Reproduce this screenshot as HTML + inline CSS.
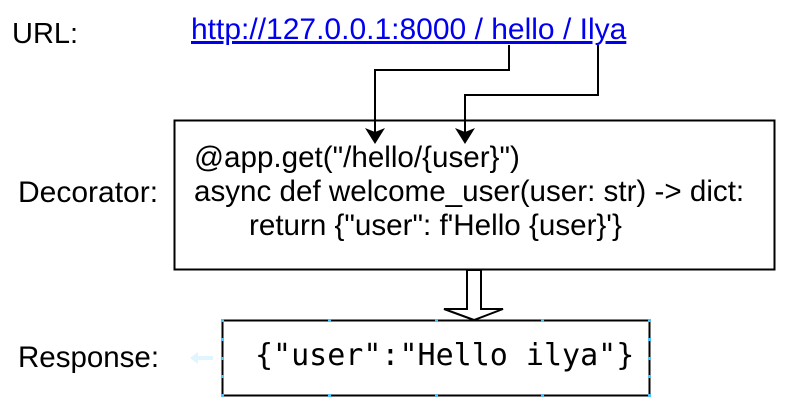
<!DOCTYPE html>
<html><head><style>
body{margin:0;width:787px;height:414px;background:#fff;overflow:hidden;position:relative;font-family:"Liberation Sans",sans-serif;}
.t{position:absolute;white-space:nowrap;color:#000;font-size:30px;line-height:34px;}
</style></head><body>
<div class="t" style="left:12px;top:17px;font-size:29px;">URL:</div>
<div class="t" style="left:18px;top:176px;font-size:30px;">Decorator:</div>
<div class="t" style="left:18px;top:341px;font-size:29.5px;">Response:</div>
<div class="t" style="left:191px;top:13px;color:#0000ee;text-decoration:underline;">http://127.0.0.1:8000 / hello / Ilya</div>
<svg width="787" height="414" style="position:absolute;left:0;top:0">
<rect x="174.5" y="120.5" width="600" height="149" fill="none" stroke="#000" stroke-width="2"/>
<polyline points="509,45 509,70 375,70 375,132" fill="none" stroke="#000" stroke-width="2"/>
<polygon points="365,128 375,144 385,128 375,132" fill="#000"/>
<polyline points="598,45 598,95 465,95 465,132" fill="none" stroke="#000" stroke-width="2"/>
<polygon points="455,128 465,144 475,128 465,132" fill="#000"/>
<polygon points="467,270 481,270 481,309 503,309 474,320 444,309 467,309" fill="#fff" stroke="#000" stroke-width="2"/>
<rect x="222.5" y="320.5" width="427" height="75" fill="none" stroke="#000" stroke-width="2"/>
<g fill="#4fc3f7">
<rect x="221" y="319" width="3" height="3"/><rect x="328" y="319" width="3" height="3"/><rect x="435" y="319" width="3" height="3"/><rect x="541" y="319" width="3" height="3"/><rect x="648" y="319" width="3" height="3"/>
<rect x="221" y="394" width="3" height="3"/><rect x="328" y="394" width="3" height="3"/><rect x="435" y="394" width="3" height="3"/><rect x="541" y="394" width="3" height="3"/><rect x="648" y="394" width="3" height="3"/>
<rect x="221" y="338" width="3" height="3"/><rect x="221" y="357" width="3" height="3"/><rect x="221" y="375" width="3" height="3"/>
<rect x="648" y="338" width="3" height="3"/><rect x="648" y="357" width="3" height="3"/><rect x="648" y="375" width="3" height="3"/>
</g>
<polygon points="190,358 198,352 198,356 213,356 213,360 198,360 198,364" fill="#e1f5fe"/>
</svg>
<div class="t" style="left:194px;top:141px;font-size:29.6px;">@app.get("/hello/{user}")<br>async def welcome_user(user: str) -&gt; dict:<br><span style="padding-left:55px">return {"user": f'Hello {user}'}</span></div>
<div class="t" style="left:255px;top:339px;font-size:30px;font-family:'DejaVu Sans Mono','Liberation Mono',monospace;">{"user":"Hello ilya"}</div>
</body></html>
